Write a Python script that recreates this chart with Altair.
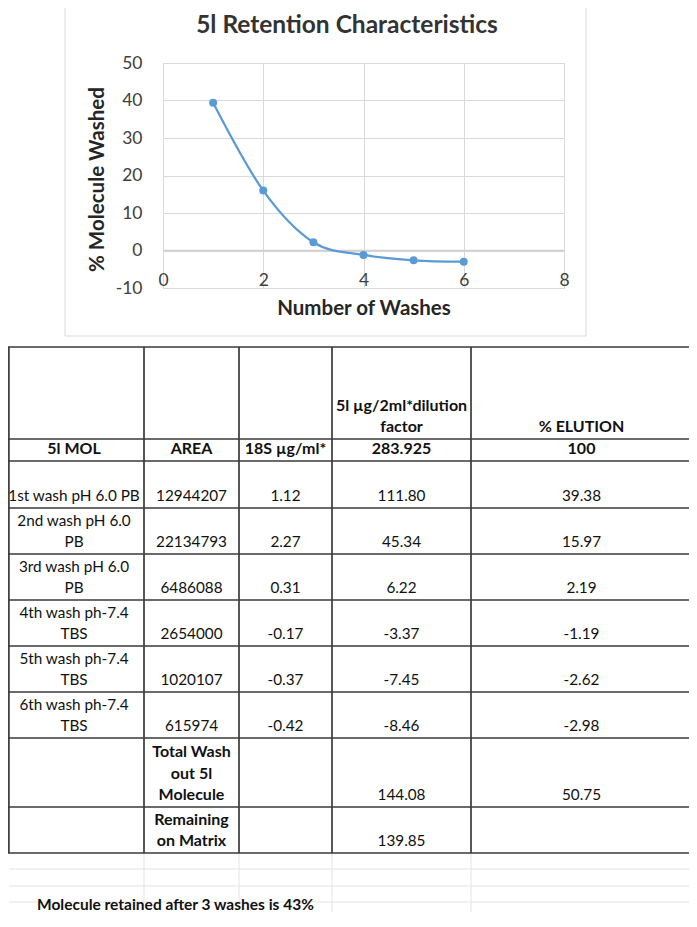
import altair as alt
import pandas as pd

# ---------------- data ----------------
washes = [1, 2, 3, 4, 5, 6]
pct_washed = [39.38, 15.97, 2.19, -1.19, -2.62, -2.98]
x_ticks = [0, 2, 4, 6, 8]
y_ticks = [-10, 0, 10, 20, 30, 40, 50]
zero_line = [0]

chart_title = "5l Retention Characteristics"
x_title = "Number of Washes"
y_title = "% Molecule Washed"

header_row = ["", "", "", "5l µg/2ml*dilution\nfactor", "% ELUTION"]
subheader_row = ["5l MOL", "AREA", "18S µg/ml*", "283.925", "100"]
wash_labels = ["1st wash pH 6.0 PB", "2nd wash pH 6.0\nPB", "3rd wash pH 6.0\nPB",
               "4th wash ph-7.4\nTBS", "5th wash ph-7.4\nTBS", "6th wash ph-7.4\nTBS"]
areas = ["12944207", "22134793", "6486088", "2654000", "1020107", "615974"]
conc_18s = ["1.12", "2.27", "0.31", "-0.17", "-0.37", "-0.42"]
amount_5l = ["111.80", "45.34", "6.22", "-3.37", "-7.45", "-8.46"]
elution = ["39.38", "15.97", "2.19", "-1.19", "-2.62", "-2.98"]
total_row = ["", "Total Wash\nout 5l\nMolecule", "", "144.08", "50.75"]
remaining_row = ["", "Remaining\non Matrix", "", "139.85", ""]
note_text = "Molecule retained after 3 washes is 43%"

# ---------------- layout (page pixels) ----------------
OX, OY = 163, 63          # plot-area origin on the page
PW, PH = 401, 225         # plot-area size
SVG_W, SVG_H = 681, 904   # whole drawing (page x 8..689, y 8..912)
PAGE_RIGHT = 8 + SVG_W
PAGE_BOTTOM = 8 + SVG_H
col_edges = [4, 144, 239, 332, 471, 692]
row_edges = [347, 439, 461, 508, 554, 600, 646, 692, 738, 807, 853]
faint_rows = [869, 886, 902]
box = dict(left=65, right=586, bottom=336, top=0)
LINE_STEP = 21.5
LAST_LINE_UP = 12
NOTE_X, NOTE_Y = 37, 905
FONT = "Lato"
BLUE = "#5B9BD5"


def rx(v):
    return v - OX


def ry(v):
    return v - OY


# table rows: (cells, bold flags)
rows = [(header_row, [False, False, False, True, True]),
        (subheader_row, [True] * 5)]
for i in range(len(wash_labels)):
    rows.append(([wash_labels[i], areas[i], conc_18s[i], amount_5l[i], elution[i]], [False] * 5))
rows.append((total_row, [False, True, False, False, False]))
rows.append((remaining_row, [False, True, False, False, False]))

text_recs = []
for r, (cells, bolds) in enumerate(rows):
    bottom = row_edges[r + 1]
    for c, cell in enumerate(cells):
        if not cell:
            continue
        lines = cell.split("\n")
        n = len(lines)
        cx = (col_edges[c] + col_edges[c + 1]) / 2
        for i, ln in enumerate(lines):
            y = bottom - LAST_LINE_UP - (n - 1 - i) * LINE_STEP
            text_recs.append({"x": rx(cx), "y": ry(y), "t": ln, "bold": bolds[c]})
text_df = pd.DataFrame(text_recs)

left_vis = max(col_edges[0], 8.9)
right_vis = min(col_edges[-1], PAGE_RIGHT)
rule_recs = []
for yy in row_edges:
    rule_recs.append({"x": rx(left_vis - 0.9), "x2": rx(right_vis), "y": ry(yy), "y2": ry(yy)})
for xx in [left_vis] + col_edges[1:-1]:
    rule_recs.append({"x": rx(xx), "x2": rx(xx), "y": ry(row_edges[0]), "y2": ry(row_edges[-1])})
rule_df = pd.DataFrame(rule_recs)

faint_recs = []
for yy in faint_rows:
    faint_recs.append({"x": rx(left_vis), "x2": rx(right_vis), "y": ry(yy), "y2": ry(yy)})
for xx in col_edges[1:-1]:
    end = faint_rows[-1] if xx < 300 else PAGE_BOTTOM
    faint_recs.append({"x": rx(xx), "x2": rx(xx), "y": ry(row_edges[-1]), "y2": ry(end)})
faint_df = pd.DataFrame(faint_recs)

box_df = pd.DataFrame([
    {"x": rx(box["left"]), "x2": rx(box["left"]), "y": ry(box["top"]), "y2": ry(box["bottom"])},
    {"x": rx(box["right"]), "x2": rx(box["right"]), "y": ry(box["top"]), "y2": ry(box["bottom"])},
    {"x": rx(box["left"]), "x2": rx(box["right"]), "y": ry(box["bottom"]), "y2": ry(box["bottom"])},
])

# ---------------- chart ----------------
xs = alt.Scale(domain=[0, 8], nice=False, zero=False)
ys = alt.Scale(domain=[-10, 50], nice=False, zero=False)

x_axis = alt.Axis(values=x_ticks, grid=True, gridColor="#d9d9d9", gridWidth=1,
                  domain=False, ticks=False, tickSize=0, labelPadding=-8,
                  labelBaseline="middle", labelFont=FONT, labelFontSize=17.5,
                  labelColor="#404040", labelFlush=False, labelOverlap=False,
                  labelExpr="datum.value + ''",
                  title=x_title, titleFont=FONT, titleFontSize=20.5, titleFontWeight="bold",
                  titleColor="#262626", titleX=PW / 2, titleY=20, titleBaseline="middle",
                  titleAlign="center")
y_axis = alt.Axis(values=y_ticks, tickCount=len(y_ticks), grid=True, gridColor="#d9d9d9",
                  gridWidth=1, domain=False, ticks=False, tickSize=0, labelPadding=21,
                  labelBaseline="middle", labelFont=FONT, labelFontSize=17.5,
                  labelColor="#404040", labelFlush=False, labelOverlap=False,
                  labelExpr="datum.value + ''",
                  title=y_title, titleFont=FONT, titleFontSize=20.5, titleFontWeight="bold",
                  titleColor="#262626", titleX=-66, titleY=116, titleBaseline="middle",
                  titleAlign="center", titleAngle=270)

line_df = pd.DataFrame({"wash": washes, "pct": pct_washed})
zero_df = pd.DataFrame({"y": zero_line, "x": [x_ticks[0]], "x2": [x_ticks[-1]]})

base_line = alt.Chart(line_df)
line = base_line.mark_line(interpolate="cardinal", color=BLUE, strokeWidth=2.25).encode(
    x=alt.X("wash:Q", scale=xs, axis=x_axis),
    y=alt.Y("pct:Q", scale=ys, axis=y_axis),
)
pts = base_line.mark_circle(color=BLUE, size=64, opacity=1).encode(
    x=alt.X("wash:Q", scale=xs, axis=x_axis),
    y=alt.Y("pct:Q", scale=ys, axis=y_axis),
)
zero = alt.Chart(zero_df).mark_rule(color="#cfcfcf", strokeWidth=1.4).encode(
    x=alt.X("x:Q", scale=xs, axis=x_axis), x2="x2:Q",
    y=alt.Y("y:Q", scale=ys, axis=y_axis)
)

title_mark = alt.Chart(pd.DataFrame({"t": [chart_title]})).mark_text(
    font=FONT, fontSize=24.5, fontWeight="bold", color="#333333", align="center", baseline="middle"
).encode(x=alt.value(184), y=alt.value(-37), text="t:N")

boxes = alt.Chart(box_df).mark_rule(color="#d9d9d9", strokeWidth=1).encode(
    x=alt.X("x:Q", scale=None), x2="x2:Q", y=alt.Y("y:Q", scale=None), y2="y2:Q"
)
faint = alt.Chart(faint_df).mark_rule(color="#e3e3e3", strokeWidth=1).encode(
    x=alt.X("x:Q", scale=None), x2="x2:Q", y=alt.Y("y:Q", scale=None), y2="y2:Q"
)
grid_rules = alt.Chart(rule_df).mark_rule(color="#3a3a3a", strokeWidth=1.7).encode(
    x=alt.X("x:Q", scale=None), x2="x2:Q", y=alt.Y("y:Q", scale=None), y2="y2:Q"
)
txt_reg = alt.Chart(text_df[~text_df["bold"]]).mark_text(
    font=FONT, fontSize=15.3, color="#111111", align="center", baseline="middle"
).encode(x=alt.X("x:Q", scale=None), y=alt.Y("y:Q", scale=None), text="t:N")
txt_bold = alt.Chart(text_df[text_df["bold"]]).mark_text(
    font=FONT, fontSize=16, fontWeight="bold", color="#111111", align="center", baseline="middle"
).encode(x=alt.X("x:Q", scale=None), y=alt.Y("y:Q", scale=None), text="t:N")
note = alt.Chart(pd.DataFrame({"t": [note_text]})).mark_text(
    font=FONT, fontSize=15.5, fontWeight="bold", color="#111111", align="left", baseline="middle"
).encode(x=alt.value(rx(NOTE_X)), y=alt.value(ry(NOTE_Y)), text="t:N")

chart = alt.layer(
    boxes, faint, grid_rules, zero, line, pts, title_mark, txt_reg, txt_bold, note
).properties(
    width=PW, height=PH,
    padding={"left": OX - 8, "top": OY - 8, "right": SVG_W - (OX - 8) - PW,
             "bottom": SVG_H - (OY - 8) - PH},
    autosize=alt.AutoSizeParams(type="none"),
).configure_view(strokeWidth=0).configure_axis(labelOverlap=False).configure(background="white")

chart.save("out.html", embed_options={"renderer": "svg", "actions": False})
